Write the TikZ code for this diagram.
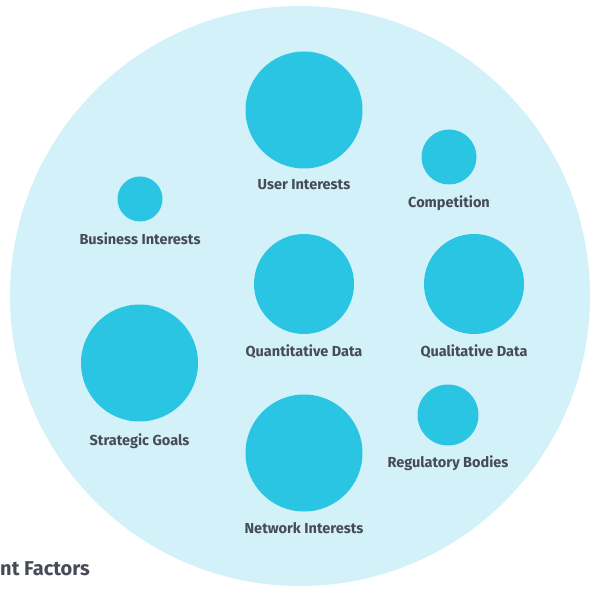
\documentclass[tikz,border=0pt]{standalone}
\usepackage{fontspec}
\setmainfont{Fira Sans}
\usepackage{xcolor}
\usepackage{tikz}
\usetikzlibrary{positioning}
\definecolor{poolblue}{HTML}{D3F1F8}
\definecolor{dotblue}{HTML}{29C5E3}
\definecolor{inkgray}{HTML}{474B57}
\tikzstyle{pool} = [circle, fill=poolblue, inner sep=0pt, minimum size=580pt]
\tikzstyle{factor} = [circle, fill=dotblue, inner sep=0pt]
\tikzstyle{caption} = [inner sep=0pt, text height=10pt, text depth=3pt, text=inkgray, font=\bfseries\fontsize{14.5}{16}\selectfont]
\tikzstyle{heading} = [inner sep=0pt, text=inkgray, font=\bfseries\fontsize{20}{24}\selectfont]

\begin{document}
\begin{tikzpicture}[x=1pt,y=-1pt]
        \useasboundingbox (0,0) rectangle (594,593);
        \clip (0,0) rectangle (594,593);
        \node[pool](pool) at (300,296){};

        \node[factor,minimum size=117pt](user) at (304,110){};
        \node[factor,minimum size=55pt](comp) at (449,157){};
        \node[factor,minimum size=45pt](business) at (140,199){};
        \node[factor,minimum size=100pt](quant) at (304,284){};
        \node[factor,minimum size=100pt](qual) at (474,284){};
        \node[factor,minimum size=117pt](goals) at (139.5,363){};
        \node[factor,minimum size=117pt](network) at (304,453){};
        \node[factor,minimum size=61pt](regul) at (448,415){};

        \node[caption,below=11pt of user](userl){User Interests};
        \node[caption,below=13pt of comp](compl){Competition};
        \node[caption,below=13pt of business](businessl){Business Interests};
        \node[caption,below=12pt of quant](quantl){Quantitative Data};
        \node[caption,below=12pt of qual](quall){Qualitative Data};
        \node[caption,below=14pt of goals](goalsl){Strategic Goals};
        \node[caption,below=12pt of network](networkl){Network Interests};
        \node[caption,below=12pt of regul](regull){Regulatory Bodies};

        \node[heading,anchor=east](heading) at (90,569){ant Factors};
    \end{tikzpicture}
\end{document}
